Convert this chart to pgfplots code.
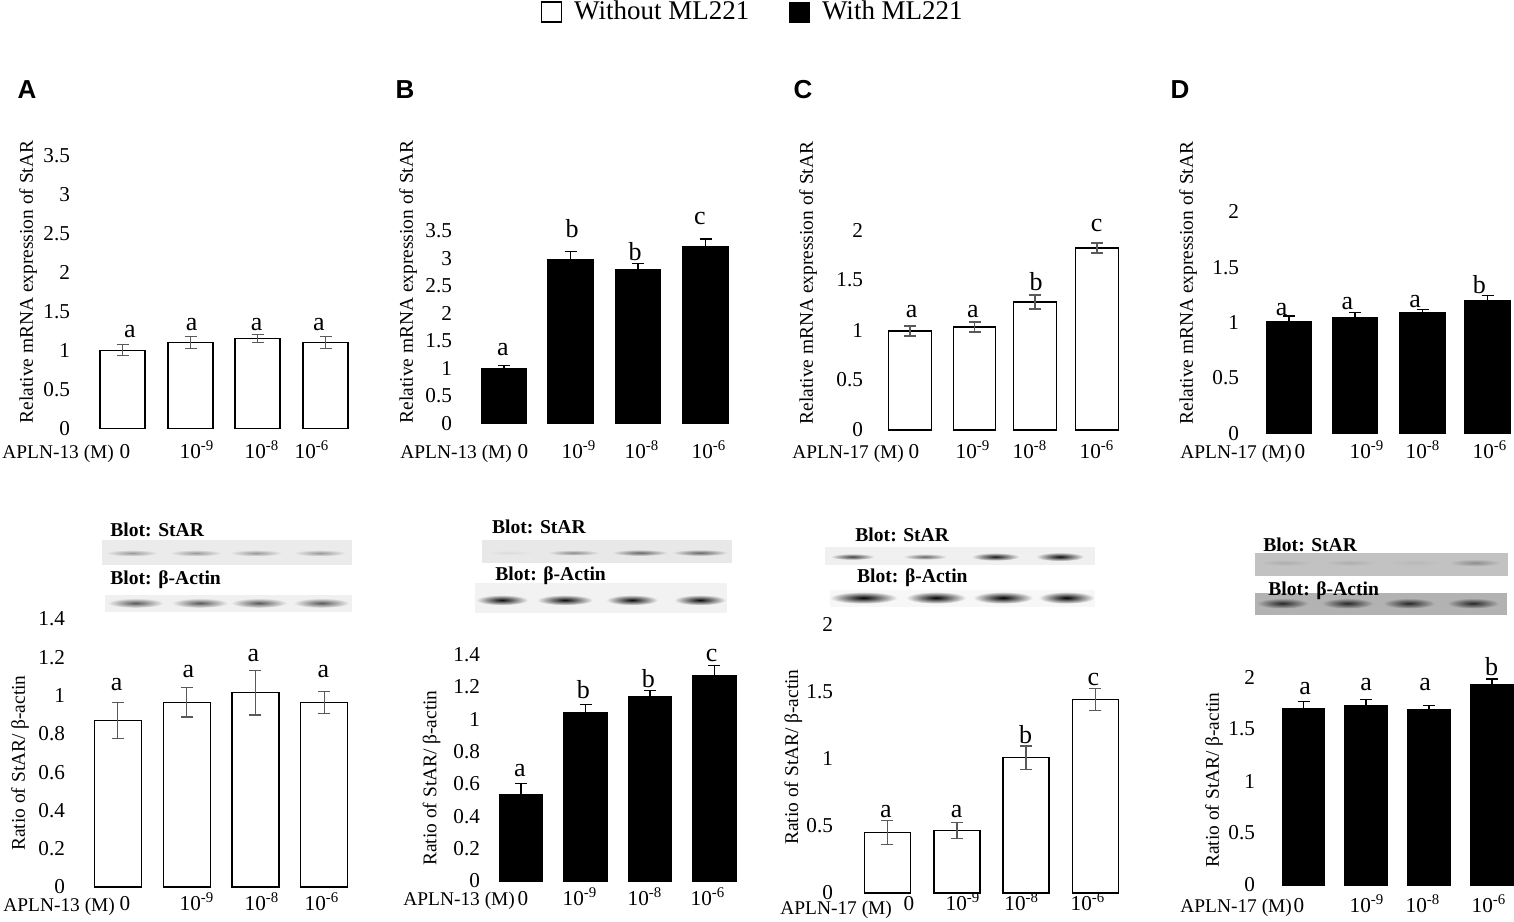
\documentclass[border=0pt]{standalone}
\usepackage{pgfplots}
\pgfplotsset{compat=1.18}
\usepackage{fontspec}
\setmainfont{Liberation Serif}
\newfontfamily\sansf{Liberation Sans}
\newcommand\tickfont{\fontsize{10.6}{12}\selectfont}
\newcommand\grpfont{\fontsize{9.7}{11}\selectfont}
\newcommand\labfont{\fontsize{9.7}{11}\selectfont}
\newcommand\letfont{\fontsize{13}{15}\selectfont}
\newcommand\blotfont{\fontsize{9.8}{11}\selectfont\bfseries}
\newcommand\tenp[1]{10\textsuperscript{#1}}
\pgfplotsset{
  panel/.style={
    anchor=south west, x=0.5pt, enlargelimits=false, ymin=0, clip=false,
    axis line style={draw=none}, major tick length=0pt, tick style={draw=none},
    /pgf/number format/assume math mode=true,
    yticklabel style={font=\tickfont, anchor=east},
    xticklabel style={font=\tickfont, anchor=base},
  },
  wbar/.style={ybar, fill=white, draw=black, line width=0.7pt,
    error bars/y dir=both, error bars/y explicit,
    error bars/error bar style={black!65, line width=0.6pt},
    error bars/error mark options={rotate=90, mark size=3pt, black!65, line width=0.6pt}},
  bbar/.style={ybar, fill=black, draw=black, line width=0.7pt,
    error bars/y dir=both, error bars/y explicit,
    error bars/error bar style={black, line width=0.6pt},
    error bars/error mark options={rotate=90, mark size=3pt, black, line width=0.6pt}},
  lets/.style={draw=none, mark=none, nodes near coords, point meta=explicit symbolic,
    nodes near coords style={anchor=center, font=\letfont, inner sep=0pt}},
}
\begin{document}
\begin{tikzpicture}

% ---------- A top ----------
\begin{axis}[panel, at={(38.5pt,-214.15pt)}, y=39pt, xmin=77, xmax=355, ymax=3.6,
  ytick={0,0.5,1,1.5,2,2.5,3,3.5},
  xtick={125,197,262,312}, xticklabels={0,\tenp{-9},\tenp{-8},\tenp{-6}},
  xticklabel style={yshift=-15.2pt},
  legend style={at={(axis description cs:2.435,1.4826)}, anchor=center, draw=none, fill=none,
    font=\fontsize{13.5}{15}\selectfont, legend columns=2,
    /tikz/every even column/.append style={column sep=18pt}},
  legend cell align=left]
\addlegendimage{legend image code/.code={\draw[fill=white,draw=black,line width=0.6pt] (-2pt,-5pt) rectangle (8pt,5pt); \path (12pt,0pt);}}
\addlegendentry{Without ML221}
\addlegendimage{legend image code/.code={\fill[black] (-2pt,-5pt) rectangle (8pt,5pt); \path (12pt,0pt);}}
\addlegendentry{With ML221}
\addplot[wbar, bar width=22.5pt, forget plot] table[x=x,y=y,y error=e]{
x y e
122.5 1.00 0.07
190.5 1.10 0.08
257.5 1.15 0.05
325.5 1.10 0.08
};
\addplot[lets, forget plot] table[x=x,y=y,meta=l]{
x y l
130 1.238 a
191.7 1.333 a
256.7 1.333 a
319 1.333 a
};
\end{axis}

% ---------- B top ----------
\begin{axis}[panel, at={(229.5pt,-211.65pt)}, y=27.5pt, xmin=459, xmax=735, ymax=3.6,
  ytick={0,0.5,1,1.5,2,2.5,3,3.5},
  xtick={523,579,642,709}, xticklabels={0,\tenp{-9},\tenp{-8},\tenp{-6}},
  xticklabel style={yshift=-17.7pt}]
\addplot[bbar, bar width=22.5pt] table[x=x,y=y,y error=e]{
x y e
504 1.00 0.05
570.5 2.97 0.15
638 2.80 0.11
705.5 3.22 0.13
};
\addplot[lets] table[x=x,y=y,meta=l]{
x y l
503 1.333 a
572 3.545 b
635 3.12 b
700 3.727 c
};
\end{axis}

% ---------- C top ----------
\begin{axis}[panel, at={(435pt,-215pt)}, y=50pt, xmin=870, xmax=1125, ymax=2.1,
  ytick={0,0.5,1,1.5,2},
  xtick={914,973,1030,1097}, xticklabels={0,\tenp{-9},\tenp{-8},\tenp{-6}},
  xticklabel style={yshift=-14.35pt}]
\addplot[wbar, bar width=21.25pt] table[x=x,y=y,y error=e]{
x y e
910 0.99 0.05
974.5 1.03 0.05
1035 1.28 0.07
1097 1.82 0.05
};
\addplot[lets] table[x=x,y=y,meta=l]{
x y l
911.7 1.183 a
973 1.183 a
1036 1.483 b
1096.7 2.05 c
};
\end{axis}

% ---------- D top ----------
\begin{axis}[panel, at={(623pt,-216.65pt)}, y=55.35pt, xmin=1246, xmax=1514, ymax=2.1,
  ytick={0,0.5,1,1.5,2},
  xtick={1300,1367,1423,1490}, xticklabels={0,\tenp{-9},\tenp{-8},\tenp{-6}},
  xticklabel style={yshift=-12.7pt}]
\addplot[bbar, bar width=22.5pt] table[x=x,y=y,y error=e]{
x y e
1289 1.01 0.05
1355 1.045 0.045
1422.5 1.09 0.025
1487.5 1.20 0.045
};
\addplot[lets] table[x=x,y=y,meta=l]{
x y l
1281.7 1.114 a
1347.3 1.174 a
1415 1.189 a
1479.3 1.340 b
};
\end{axis}

% ---------- A bottom ----------
\begin{axis}[panel, at={(36pt,-443.5pt)}, y=95.75pt, xmin=72, xmax=355, ymax=1.45,
  ytick={0,0.2,0.4,0.6,0.8,1,1.2,1.4},
  xtick={125,197,262,322}, xticklabels={0,\tenp{-9},\tenp{-8},\tenp{-6}},
  xticklabel style={yshift=-11.65pt}]
\addplot[wbar, bar width=23.5pt] table[x=x,y=y,y error=e]{
x y e
117.7 0.87 0.095
186.7 0.965 0.077
255.3 1.015 0.117
324.2 0.965 0.057
};
\addplot[lets] table[x=x,y=y,meta=l]{
x y l
116.7 1.055 a
188.3 1.124 a
253.3 1.211 a
323.3 1.124 a
};
\end{axis}

% ---------- B bottom ----------
\begin{axis}[panel, at={(243.5pt,-440.5pt)}, y=81pt, xmin=487, xmax=740, ymax=1.45,
  ytick={0,0.2,0.4,0.6,0.8,1,1.2,1.4},
  xtick={523,580,645,708}, xticklabels={0,\tenp{-9},\tenp{-8},\tenp{-6}},
  xticklabel style={yshift=-12.15pt}]
\addplot[bbar, bar width=21.65pt] table[x=x,y=y,y error=e]{
x y e
521 0.53 0.07
585.7 1.04 0.05
650 1.14 0.035
714.3 1.265 0.065
};
\addplot[lets] table[x=x,y=y,meta=l]{
x y l
520 0.685 a
583.3 1.179 b
648.3 1.251 b
711.7 1.395 c
};
\end{axis}

% ---------- C bottom ----------
\begin{axis}[panel, at={(420pt,-446.5pt)}, y=67.2pt, xmin=840, xmax=1122, ymax=2.05,
  ytick={0,0.5,1,1.5,2},
  xtick={909,963,1021.7,1088}, xticklabels={0,\tenp{-9},\tenp{-8},\tenp{-6}},
  xticklabel style={yshift=-8.65pt}]
\addplot[wbar, bar width=23pt] table[x=x,y=y,y error=e]{
x y e
887.3 0.45 0.09
957 0.465 0.058
1026 1.007 0.087
1095.3 1.44 0.083
};
\addplot[lets] table[x=x,y=y,meta=l]{
x y l
886 0.605 a
956.7 0.605 a
1025.7 1.176 b
1093.3 1.585 c
};
\end{axis}

% ---------- D bottom ----------
\begin{axis}[panel, at={(631pt,-442.5pt)}, y=52pt, xmin=1262, xmax=1514, ymax=2.05,
  ytick={0,0.5,1,1.5,2},
  xtick={1299,1367,1423,1489}, xticklabels={0,\tenp{-9},\tenp{-8},\tenp{-6}},
  xticklabel style={yshift=-13.5pt}]
\addplot[bbar, bar width=21pt] table[x=x,y=y,y error=e]{
x y e
1303.5 1.70 0.065
1366 1.72 0.06
1429 1.69 0.035
1492 1.93 0.05
};
\addplot[lets] table[x=x,y=y,meta=l]{
x y l
1305 1.891 a
1366 1.923 a
1425 1.923 a
1491.7 2.099 b
};
\end{axis}

% ---------- decorations: labels and blot images ----------
\begin{scope}[x=0.5pt,y=-0.5pt]
\foreach \lx/\lt in {27/A,405/B,803/C,1180/D}
  \node[font=\sansf\fontsize{13}{15}\selectfont\bfseries] at (\lx,90) {\lt};
\node[rotate=90,font=\labfont] at (28,282) {Relative mRNA expression of StAR};
\node[rotate=90,font=\labfont] at (408,282) {Relative mRNA expression of StAR};
\node[rotate=90,font=\labfont] at (808,283) {Relative mRNA expression of StAR};
\node[rotate=90,font=\labfont] at (1188,283) {Relative mRNA expression of StAR};
\node[rotate=90,font=\labfont] at (20,763) {Ratio of StAR/ β-actin};
\node[rotate=90,font=\labfont] at (431.7,778) {Ratio of StAR/ β-actin};
\node[rotate=90,font=\labfont] at (793.3,757) {Ratio of StAR/ β-actin};
\node[rotate=90,font=\labfont] at (1214,780) {Ratio of StAR/ β-actin};
\node[anchor=base west,font=\grpfont,inner sep=0pt] at (2,458.7) {APLN-13 (M)};
\node[anchor=base west,font=\grpfont,inner sep=0pt] at (400,458.7) {APLN-13 (M)};
\node[anchor=base west,font=\grpfont,inner sep=0pt] at (792,458.7) {APLN-17 (M)};
\node[anchor=base west,font=\grpfont,inner sep=0pt] at (1180,458.7) {APLN-17 (M)};
\node[anchor=base west,font=\grpfont,inner sep=0pt] at (3,911.3) {APLN-13 (M)};
\node[anchor=base west,font=\grpfont,inner sep=0pt] at (403,905.3) {APLN-13 (M)};
\node[anchor=base west,font=\grpfont,inner sep=0pt] at (780,914) {APLN-17 (M)};
\node[anchor=base west,font=\grpfont,inner sep=0pt] at (1180,912) {APLN-17 (M)};

% blots A
\fill[black!8] (101.7,540) rectangle (351.7,565);
\foreach \c in {132,196,256,320}
  \shade[inner color=black!40, outer color=black!8] (\c,553) ellipse (13pt and 1.6pt);
\fill[black!6] (105,595) rectangle (351.7,612);
\foreach \c in {135.5,200,259,321.5}
  \shade[inner color=black!65, outer color=black!6] (\c,603) ellipse (14pt and 2.4pt);
\node[anchor=west,font=\blotfont,inner sep=0pt] at (110,530) {Blot: StAR};
\node[anchor=west,font=\blotfont,inner sep=0pt] at (110,580) {Blot: β-Actin};

% blots B
\fill[black!9] (481.7,540) rectangle (731.7,563.3);
\shade[inner color=black!14, outer color=black!9] (510,552.7) ellipse (12pt and 1.2pt);
\shade[inner color=black!45, outer color=black!9] (573.5,552.7) ellipse (13pt and 1.4pt);
\shade[inner color=black!60, outer color=black!9] (640,552.7) ellipse (14pt and 1.6pt);
\shade[inner color=black!60, outer color=black!9] (700,552.7) ellipse (14pt and 1.6pt);
\fill[black!5] (475,583.3) rectangle (726.7,613.3);
\foreach \c/\r in {502/13,565/14,632/13,700/13}
  \shade[inner color=black!95, outer color=black!5] (\c,600) ellipse (\r pt and 2.6pt);
\node[anchor=west,font=\blotfont,inner sep=0pt] at (491.7,526.7) {Blot: StAR};
\node[anchor=west,font=\blotfont,inner sep=0pt] at (495,576) {Blot: β-Actin};

% blots C
\fill[black!6] (825,546.7) rectangle (1095,565);
\shade[inner color=black!75, outer color=black!6] (852.5,556.7) ellipse (11pt and 1.6pt);
\shade[inner color=black!60, outer color=black!6] (925,556.7) ellipse (11pt and 1.5pt);
\shade[inner color=black!90, outer color=black!6] (995.5,556.7) ellipse (12pt and 2pt);
\shade[inner color=black!95, outer color=black!6] (1060,556.7) ellipse (12pt and 2.2pt);
\fill[black!3] (830,590) rectangle (1095,606.7);
\foreach \c/\r in {863.5/17,936/15,1003/15,1066.5/14}
  {\shade[inner color=black, middle color=black!90, outer color=black!3] (\c,597.7) ellipse (\r pt and 3pt);}
\node[anchor=west,font=\blotfont,inner sep=0pt] at (855,535) {Blot: StAR};
\node[anchor=west,font=\blotfont,inner sep=0pt] at (856.7,577.3) {Blot: β-Actin};

% blots D
\fill[black!24] (1255,553.3) rectangle (1508,576);
\shade[inner color=black!32, outer color=black!24] (1285,562.7) ellipse (13pt and 1.5pt);
\shade[inner color=black!32, outer color=black!24] (1350,562.7) ellipse (13pt and 1.5pt);
\shade[inner color=black!28, outer color=black!24] (1415,562.7) ellipse (13pt and 1.5pt);
\shade[inner color=black!45, outer color=black!24] (1475,562.7) ellipse (13pt and 1.8pt);
\fill[black!30] (1255,593.3) rectangle (1506.7,615);
\foreach \c in {1282.5,1347.5,1409,1473}
  \shade[inner color=black!85, outer color=black!30] (\c,603.3) ellipse (13pt and 2.6pt);
\node[anchor=west,font=\blotfont,inner sep=0pt] at (1263,545) {Blot: StAR};
\node[anchor=west,font=\blotfont,inner sep=0pt] at (1268,590.7) {Blot: β-Actin};

% fix the page to the reference's size
\pgfresetboundingbox
\useasboundingbox (0,0) rectangle (1514,921);
\end{scope}
\end{tikzpicture}
\end{document}
